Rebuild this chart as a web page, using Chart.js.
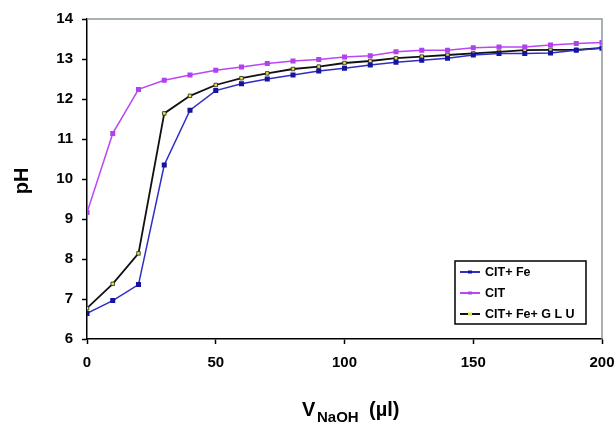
<!DOCTYPE html>
<html>
<head>
<meta charset="utf-8">
<script src="https://cdn.jsdelivr.net/npm/chart.js@4/dist/chart.umd.min.js"></script>
<style>
  html, body { margin: 0; padding: 0; background: #ffffff; }
  #wrap { position: relative; width: 615px; height: 429px; }
</style>
</head>
<body>
<div id="wrap"><canvas id="c" width="615" height="429"></canvas></div>
<script>
const volumes = [0,10,20,30,40,50,60,70,80,90,100,110,120,130,140,150,160,170,180,190,200];
const citFe = [6.64,6.96,7.36,10.35,11.72,12.21,12.38,12.50,12.60,12.70,12.77,12.85,12.92,12.97,13.02,13.10,13.14,13.14,13.15,13.22,13.27];
const cit = [9.16,11.14,12.24,12.47,12.60,12.72,12.80,12.89,12.95,12.99,13.05,13.08,13.18,13.22,13.22,13.28,13.30,13.30,13.35,13.39,13.41];
const citFeGlu = [6.77,7.38,8.14,11.64,12.08,12.35,12.52,12.64,12.75,12.81,12.90,12.95,13.02,13.06,13.10,13.14,13.18,13.22,13.23,13.23,13.28];
const seriesNames = ['CIT+ Fe', 'CIT', 'CIT+ Fe+ G L U'];
const yTicks = [6,7,8,9,10,11,12,13,14];
const xTicks = [0,50,100,150,200];

const toXY = arr => arr.map((v, i) => ({x: volumes[i], y: v}));

const frame = {
  id: 'frame',
  afterDraw(chart) {
    const {ctx, chartArea: a} = chart;
    ctx.save();
    // gray top/right border
    ctx.strokeStyle = '#8c9699';
    ctx.lineWidth = 1.5;
    ctx.beginPath();
    ctx.moveTo(a.left, a.top);
    ctx.lineTo(a.right, a.top);
    ctx.lineTo(a.right, a.bottom);
    ctx.stroke();

    // y title
    ctx.fillStyle = '#000';
    ctx.font = 'bold 20px "Liberation Sans", Arial, sans-serif';
    ctx.translate(22, 181);
    ctx.rotate(-Math.PI / 2);
    ctx.textAlign = 'center';
    ctx.textBaseline = 'middle';
    ctx.fillText('pH', 0, 0);
    ctx.restore();

    // x title with subscript
    ctx.save();
    ctx.fillStyle = '#000';
    ctx.textBaseline = 'alphabetic';
    ctx.textAlign = 'left';
    const big = 'bold 20px "Liberation Sans", Arial, sans-serif';
    const small = 'bold 15px "Liberation Sans", Arial, sans-serif';
    const base = 416;
    ctx.font = big; ctx.fillText('V', 302, base);
    ctx.font = small; ctx.fillText('NaOH', 317, base + 6);
    ctx.font = big; ctx.fillText('(µl)', 369, base);
    ctx.restore();

    // legend
    ctx.save();
    const lx = 455, ly = 261, lw = 131, lh = 63;
    ctx.fillStyle = '#ffffff';
    ctx.fillRect(lx, ly, lw, lh);
    ctx.strokeStyle = '#000';
    ctx.lineWidth = 1.5;
    ctx.strokeRect(lx, ly, lw, lh);
    ctx.font = 'bold 12.5px "Liberation Sans", Arial, sans-serif';
    ctx.textBaseline = 'middle';
    chart.data.datasets.forEach((ds, i) => {
      const yy = ly + 11 + i * 21;
      ctx.strokeStyle = ds.borderColor;
      ctx.lineWidth = 2;
      ctx.beginPath();
      ctx.moveTo(lx + 5, yy);
      ctx.lineTo(lx + 25, yy);
      ctx.stroke();
      ctx.fillStyle = ds.pointBackgroundColor;
      ctx.fillRect(lx + 13, yy - 1.5, 4, 3);
      ctx.fillStyle = '#000';
      ctx.fillText(ds.label, lx + 30, yy + 1);
    });
    ctx.restore();
  }
};

new Chart(document.getElementById('c'), {
  type: 'line',
  data: {
    datasets: [
      { label: seriesNames[0], data: toXY(citFe), borderColor: '#2e2ec4', backgroundColor: '#1414a0',
        pointBackgroundColor: '#1414a0', pointBorderColor: '#1414a0', borderWidth: 1.5,
        pointStyle: 'rect', pointRadius: 2.5, tension: 0 },
      { label: seriesNames[1], data: toXY(cit), borderColor: '#b848f4', backgroundColor: '#b040f0',
        pointBackgroundColor: '#b040f0', pointBorderColor: '#b040f0', borderWidth: 1.5,
        pointStyle: 'rect', pointRadius: 2.5, tension: 0 },
      { label: seriesNames[2], data: toXY(citFeGlu), borderColor: '#111111', backgroundColor: '#e0e040',
        pointBackgroundColor: '#e0e040', pointBorderColor: '#222222', pointBorderWidth: 0.8, borderWidth: 1.8,
        pointStyle: 'rect', pointRadius: 2.5, tension: 0 }
    ]
  },
  options: {
    responsive: false,
    animation: false,
    layout: { padding: { top: 19, right: 13, left: 0, bottom: 0 } },
    plugins: { legend: { display: false }, tooltip: { enabled: false } },
    scales: {
      x: {
        type: 'linear', min: 0, max: 200,
        afterBuildTicks: s => { s.ticks = xTicks.map(v => ({value: v})); },
        afterFit: s => { s.height = 90; s.paddingRight = 0; s.paddingLeft = 0; },
        grid: { display: true, drawOnChartArea: false, drawTicks: true, tickLength: 5, color: '#000', tickWidth: 1.5 },
        border: { display: true, color: '#000', width: 1.5 },
        ticks: { color: '#000', padding: 10, maxRotation: 0,
          font: { family: '"Liberation Sans", Arial, sans-serif', size: 15, weight: 'bold' } }
      },
      y: {
        type: 'linear', min: 6, max: 14,
        afterBuildTicks: s => { s.ticks = yTicks.map(v => ({value: v})); },
        afterFit: s => { s.width = 87; s.paddingTop = 0; s.paddingBottom = 0; },
        grid: { display: true, drawOnChartArea: false, drawTicks: true, tickLength: 5, color: '#000', tickWidth: 1.5 },
        border: { display: true, color: '#000', width: 1.5 },
        ticks: { color: '#000', padding: 9,
          font: { family: '"Liberation Sans", Arial, sans-serif', size: 15, weight: 'bold' } }
      }
    }
  },
  plugins: [frame]
});
</script>
</body>
</html>
